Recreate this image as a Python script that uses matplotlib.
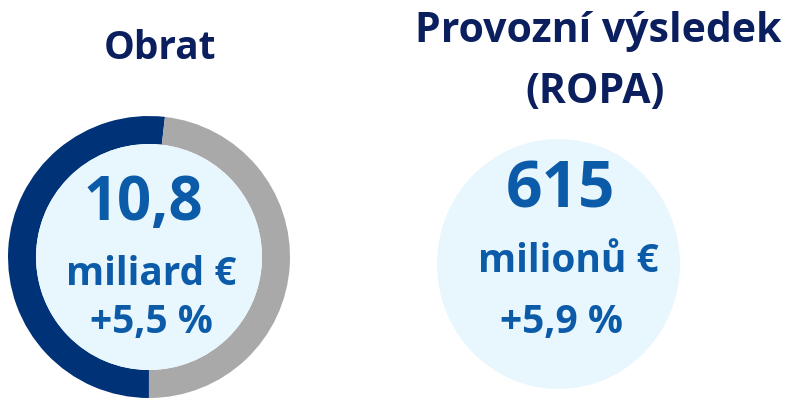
import matplotlib
matplotlib.use("Agg")
import matplotlib.pyplot as plt
from matplotlib.patches import Ellipse, Circle

# ---- data ----
titles = ["Obrat", "Provozní výsledek\n(ROPA)"]
share_values = [51.8, 48.2]          # donut split (navy, grey)
big_values = ["10,8", "615"]
units = ["miliard €", "milionů €"]
changes = ["+5,5 %", "+5,9 %"]

NAVY = "#003277"
GREY = "#a9a9a9"
LIGHT = "#e8f6fe"
BLUE = "#0c5ba8"
TITLE = "#0b1f5e"

plt.rcParams['font.family'] = ['Open Sans', 'DejaVu Sans']

W, H = 792, 401
fig = plt.figure(figsize=(W / 100, H / 100), dpi=100)
ax = fig.add_axes([0, 0, 1, 1])

def Y(py):
    return H - py

# left donut
cx, cy, R, ring = 149, Y(257), 141, 28
ax.pie(share_values, colors=[NAVY, GREY], startangle=83.5, counterclock=True,
       center=(cx, cy), radius=R, wedgeprops=dict(width=ring, linewidth=0),
       frame=True)
ax.add_patch(Circle((cx, cy), R - ring, facecolor=LIGHT, edgecolor="none", zorder=3))
ax.set_xlim(0, W)
ax.set_ylim(0, H)
ax.set_aspect("auto")
ax.axis("off")

# right circle
ax.add_patch(Ellipse((558.5, Y(264)), 243, 250, facecolor=LIGHT, edgecolor="none", zorder=3))

kw = dict(fontweight="bold", ha="center", va="baseline", zorder=5)

# titles
ax.text(160, Y(59), titles[0], fontsize=28, color=TITLE, **kw)
t1, t2 = titles[1].split("\n")
ax.text(598, Y(42), t1, fontsize=29.5, color=TITLE, **kw)
ax.text(595, Y(103), t2, fontsize=29.5, color=TITLE, **kw)

# left texts
ax.text(143, Y(220), big_values[0], fontsize=43, color=BLUE, **kw)
ax.text(151, Y(285), units[0], fontsize=28, color=BLUE, **kw)
ax.text(151, Y(333), changes[0], fontsize=28, color=BLUE, **kw)

# right texts
ax.text(560, Y(208), big_values[1], fontsize=46, color=BLUE, **kw)
ax.text(568, Y(272), units[1], fontsize=28, color=BLUE, **kw)
ax.text(561, Y(333), changes[1], fontsize=28, color=BLUE, **kw)

fig.savefig("out.png", dpi=100)
